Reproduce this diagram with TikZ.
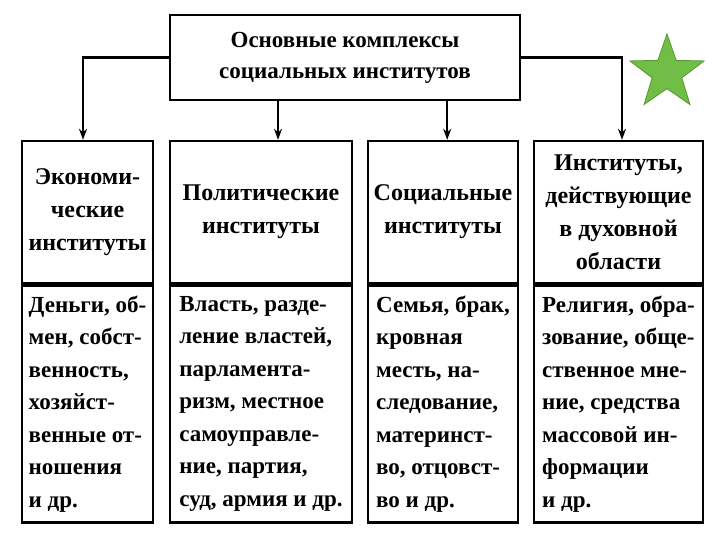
\documentclass[tikz,border=0pt]{standalone}
\usepackage{fontspec}
\setmainfont{Liberation Serif}
\usetikzlibrary{arrows.meta,positioning,shapes.geometric,calc}

\definecolor{starfill}{RGB}{112,190,70}
\definecolor{starline}{RGB}{84,150,50}

\begin{document}
\begin{tikzpicture}[x=1pt, y=-1pt,
    % Boxes
    topbox/.style={rectangle, draw=black, line width=2.4pt, minimum width=350pt, minimum height=85pt, align=center, font=\bfseries\fontsize{23}{31}\selectfont},
    headbox/.style={rectangle, draw=black, line width=2.4pt, minimum height=142pt, align=center, font=\bfseries\fontsize{24}{33}\selectfont},
    listbox/.style={rectangle, draw=black, line width=2.4pt, minimum height=237pt, align=left, inner sep=3pt, font=\bfseries\fontsize{23}{32.5}\selectfont},
    link/.style={line width=2.4pt, -{Stealth[length=11pt,width=8pt]}},
    badge/.style={star, star points=5, star point ratio=2.5, draw=starline, fill=starfill, line width=0.8pt, minimum size=78pt, inner sep=0pt}
]
\useasboundingbox (0,0) rectangle (720,540);

% Title box
\node[topbox] (top) at (345, 57.5) {Основные комплексы\\социальных институтов};

% Star in the corner
\node[badge] (mark) at (667, 73) {};

% Column headers
\node[headbox, minimum width=131pt] (hd1) at (87.5, 212) {Экономи-\\ческие\\институты};
\node[headbox, minimum width=182pt] (hd2) at (261, 212) {Политические\\институты};
\node[headbox, minimum width=150pt] (hd3) at (443, 212) {Социальные\\институты};
\node[headbox, minimum width=169pt] (hd4) at (618.5, 212) {Институты,\\действующие\\в духовной\\области};

% Column contents
\node[listbox, minimum width=131pt, anchor=north] (ls1) at (hd1.south) {Деньги, об-\\мен, собст-\\венность,\\хозяйст-\\венные от-\\ношения\\и др.};
\node[listbox, minimum width=182pt, anchor=north] (ls2) at (hd2.south) {Власть, разде-\\ление властей,\\парламента-\\ризм, местное\\самоуправле-\\ние, партия,\\суд, армия и др.};
\node[listbox, minimum width=150pt, anchor=north] (ls3) at (hd3.south) {Семья, брак,\\кровная\\месть, на-\\следование,\\материнст-\\во, отцовст-\\во и др.};
\node[listbox, minimum width=169pt, anchor=north] (ls4) at (hd4.south) {Религия, обра-\\зование, обще-\\ственное мне-\\ние, средства\\массовой ин-\\формации\\и др.};

% Arrows from the title
\coordinate (s2) at ($(top.south west)!0.31!(top.south east)$);
\coordinate (s3) at ($(top.south west)!0.79!(top.south east)$);
\draw[link] (top.west) -| ([xshift=-4.5pt]hd1.north);
\draw[link] (s2) -- (s2 |- hd2.north);
\draw[link] (s3) -- (s3 |- hd3.north);
\draw[link] (top.east) -| ([xshift=3.5pt]hd4.north);

\end{tikzpicture}
\end{document}
